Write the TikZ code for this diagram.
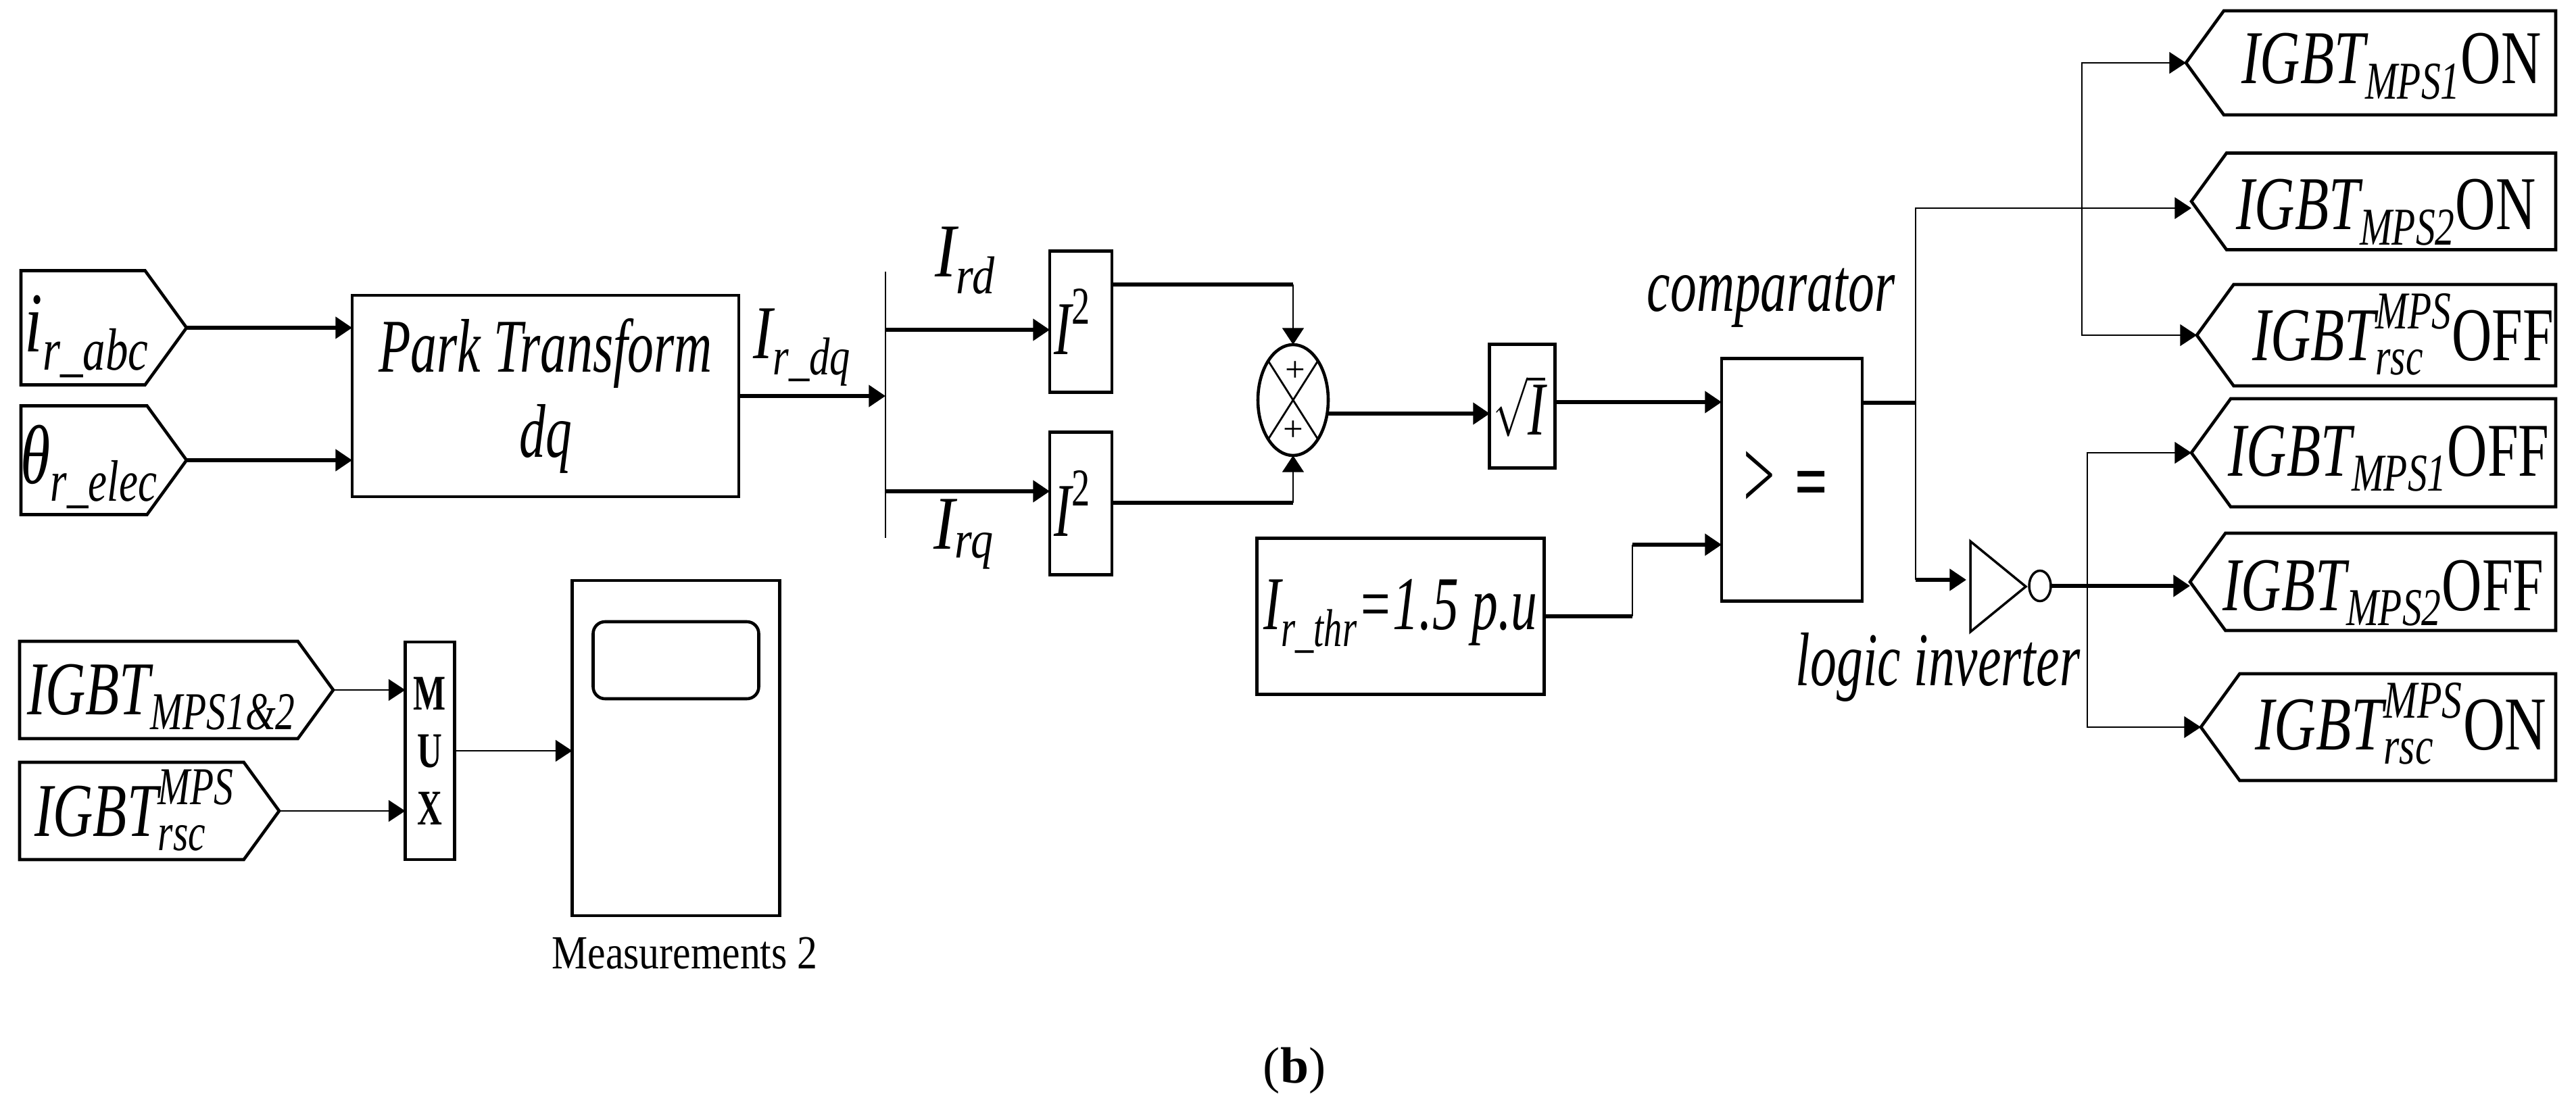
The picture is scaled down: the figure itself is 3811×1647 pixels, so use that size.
\documentclass[tikz,border=0pt]{standalone}
\usepackage{amsmath}
\usepackage{graphicx}
\usepackage{fontspec}
\setmainfont{Liberation Serif}
\usetikzlibrary{arrows.meta,shapes.geometric,shapes.symbols}
\newcommand{\sq}[1]{\scalebox{.69}[1]{#1}}
\newcommand{\sqw}[1]{\scalebox{.73}[1]{#1}}
\tikzset{
        box/.style={draw, line width=1.3pt, inner sep=0pt, outer sep=0pt},
        inport/.style={box, signal, signal to=east, signal pointer angle=108, anchor=east},
        outport/.style={box, signal, signal to=west, signal pointer angle=108, anchor=west},
        lbl/.style={inner sep=0pt, align=center, font=\fontsize{32}{36}\selectfont\itshape},
        wire/.style={line width=1.5pt},
        thinwire/.style={line width=.8pt},
        >={Triangle[length=7pt,width=9pt]}
}
\begin{document}
\begin{tikzpicture}[x=0.1mm,y=-0.1mm]
        \useasboundingbox (0,0) rectangle (3811,1647);

        % Nodes for the input ports
        \node[inport, minimum width=24.5mm, minimum height=16.9mm] (iabc) at (276,485) {};
        \node[inport, minimum width=24.5mm, minimum height=16.1mm] (thetae) at (276,681) {};
        \node[lbl, anchor=base] (iabclbl) at (129,520) {\scalebox{.85}[1.12]{$\textit{i}_{\textit{r\_abc}}$}};
        \node[lbl, anchor=base] (thetalbl) at (132,715) {\scalebox{.8}[1.1]{$\textit{θ}_{\textit{r\_elec}}$}};

        % Nodes for the transform and the squares
        \node[box, lbl, minimum width=57.2mm, minimum height=29.8mm] (park) at (807,586) {\sq{Park Transform}\\\sq{dq}};
        \node[lbl, anchor=base] (irdq) at (1187,530) {\scalebox{.77}[1]{$\textit{I}_{\textit{r\_dq}}$}};
        \coordinate (bartop) at (1310,402);
        \coordinate (barbot) at (1310,796);
        \coordinate (rdj) at (1310,488);
        \coordinate (rqj) at (1310,727);
        \node[lbl, anchor=base] (irdlbl) at (1428,410) {\scalebox{.84}[1]{$\textit{I}_{\textit{rd}}$}};
        \node[lbl, anchor=base] (irqlbl) at (1426,812) {\scalebox{.84}[1]{$\textit{I}_{\textit{rq}}$}};
        \node[box, lbl, minimum width=9.2mm, minimum height=20.9mm] (sqa) at (1599,476) {\sq{$\textit{I}^{\textup{2}}$}\hspace{2.4mm}};
        \node[box, lbl, minimum width=9.2mm, minimum height=21.1mm] (sqb) at (1599,745) {\sq{$\textit{I}^{\textup{2}}$}\hspace{2.4mm}};

        % Nodes for the sum and the root
        \node[draw, ellipse, line width=1.3pt, inner sep=0pt, outer sep=0pt, minimum width=10.4mm, minimum height=16.4mm] (sum) at (1913,592) {};
        \node[inner sep=0pt, font=\fontsize{15}{15}\selectfont] (plusa) at (1916,550) {+};
        \node[inner sep=0pt, font=\fontsize{15}{15}\selectfont] (plusb) at (1913,638) {+};
        \coordinate (suma) at (1913,421);
        \coordinate (sumb) at (1913,744);
        \node[box, lbl, minimum width=9.7mm, minimum height=18.3mm] (root) at (2252,601) {\sq{$\sqrt{\textit{I}}$}\hspace{.8mm}};
        \node[box, lbl, minimum width=42.5mm, minimum height=23.1mm] (thr) at (2072,912) {\sq{$\textit{I}_{\textit{r\_thr}}$=1.5 p.u}};
        \coordinate (thrj) at (2415,806);

        % Nodes for the comparator and the inverter
        \node[box, lbl, font=\fontsize{42}{46}\selectfont, minimum width=20.8mm, minimum height=35.9mm] (comp) at (2651,710) {\raisebox{-.6mm}{\scalebox{.56}[1]{>}\hspace{3mm}\scalebox{.58}[.8]{\textbf{=}}}\hspace{1.8mm}};
        \node[lbl, anchor=base] (complbl) at (2620,460) {\sq{comparator}};
        \node[draw, isosceles triangle, isosceles triangle stretches, line width=1pt, inner sep=0pt, outer sep=0pt, minimum width=13.4mm, minimum height=8.2mm, anchor=lower side] (inv) at (2915,868) {};
        \node[draw, ellipse, line width=1pt, inner sep=0pt, outer sep=0pt, minimum width=3.2mm, minimum height=4.5mm] (invc) at (3018,867) {};
        \node[lbl, anchor=base] (invlbl) at (2867,1014) {\sq{logic inverter}};
        \coordinate (cjoin) at (2834,596);
        \coordinate (invj) at (2834,858);
        \coordinate (topj) at (3080,308);
        \coordinate (botj) at (3088,868);

        % Nodes for the output ports
        \node[outport, minimum width=54.7mm, minimum height=15.4mm] (onone) at (3234,93) {};
        \node[outport, minimum width=53.9mm, minimum height=14.3mm] (ontwo) at (3242,298) {};
        \node[outport, minimum width=53.1mm, minimum height=15mm] (offrsc) at (3250,496) {};
        \node[outport, minimum width=53.9mm, minimum height=16mm] (offone) at (3242,670) {};
        \node[outport, minimum width=54.1mm, minimum height=14.4mm] (offtwo) at (3240,861) {};
        \node[outport, minimum width=52.5mm, minimum height=15.8mm] (onrsc) at (3256,1076) {};
        \node[lbl, anchor=base] (ononelbl) at (3538,124) {\sqw{$\textit{IGBT}_{\textit{MPS1}}$\textup{ON}}};
        \node[lbl, anchor=base] (ontwolbl) at (3530,340) {\sqw{$\textit{IGBT}_{\textit{MPS2}}$\textup{ON}}};
        \node[lbl, anchor=base] (offrsclbl) at (3555,533) {\sqw{$\textit{IGBT}^{\textit{MPS}}_{\textit{rsc}}$\textup{OFF}}};
        \node[lbl, anchor=base] (offonelbl) at (3534,704) {\sqw{$\textit{IGBT}_{\textit{MPS1}}$\textup{OFF}}};
        \node[lbl, anchor=base] (offtwolbl) at (3526,903) {\sqw{$\textit{IGBT}_{\textit{MPS2}}$\textup{OFF}}};
        \node[lbl, anchor=base] (onrsclbl) at (3552,1109) {\scalebox{.76}[1]{$\textit{IGBT}^{\textit{MPS}}_{\textit{rsc}}$\textup{ON}}};

        % Nodes for the measurements
        \node[inport, minimum width=46.4mm, minimum height=14.4mm] (igall) at (493,1021) {};
        \node[inport, minimum width=38.4mm, minimum height=14.4mm] (igrsc) at (413,1200) {};
        \node[lbl, anchor=base] (igalllbl) at (239,1057) {\sqw{$\textit{IGBT}_{\textit{MPS1\&2}}$}};
        \node[lbl, anchor=base] (igrsclbl) at (199,1237) {\sqw{$\textit{IGBT}^{\textit{MPS}}_{\textit{rsc}}$}};
        \node[box, minimum width=7.3mm, minimum height=32.2mm, align=center, font=\fontsize{21}{24.2}\selectfont\bfseries] (mux) at (636,1111) {\sq{M}\\\sq{U}\\\sq{X}};
        \node[box, minimum width=30.7mm, minimum height=49.6mm] (scope) at (1000,1107) {};
        \node[box, rounded corners=5pt, minimum width=24.5mm, minimum height=11.4mm] (screen) at (1000,977) {};
        \node[inner sep=0pt, font=\fontsize{20}{24}\selectfont] (scopelbl) at (1013,1411) {\scalebox{.85}[1]{Measurements 2}};

        \node[inner sep=0pt, font=\fontsize{21.5}{26}\selectfont] (sublbl) at (1915,1584) {(\textbf{b})};

        % Connectors of the upper chain
        \draw[wire,->] (iabc.east) -- (iabc.east -| park.west);
        \draw[wire,->] (thetae.east) -- (thetae.east -| park.west);
        \draw[wire,->] (park.east) -- (park.east -| bartop);
        \draw[thinwire] (bartop) -- (barbot);
        \draw[wire,->] (rdj) -- (rdj -| sqa.west);
        \draw[wire,->] (rqj) -- (rqj -| sqb.west);
        \draw[wire] (suma -| sqa.east) -- (suma);
        \draw[thinwire,->] (suma) -- (sum.north);
        \draw[wire] (sumb -| sqb.east) -- (sumb);
        \draw[thinwire,->] (sumb) -- (sum.south);
        \draw[thinwire] (sum.north west) -- (sum.south east);
        \draw[thinwire] (sum.north east) -- (sum.south west);
        \coordinate (rootin) at (2204,612);
        \coordinate (compin) at (2547,595);
        \draw[wire,->] (rootin -| sum.east) -- (rootin);
        \draw[wire,->] (compin -| root.east) -- (compin);
        \draw[wire] (thr.east) -| (thr.east -| thrj);
        \draw[thinwire] (thr.east -| thrj) -- (thrj);
        \draw[wire,->] (thrj) -- (thrj -| comp.west);

        % Comparator output
        \draw[wire] (cjoin -| comp.east) -- (cjoin);
        \draw[thinwire] (cjoin) |- (topj);
        \draw[thinwire,->] (topj) |- (onone.west);
        \draw[thinwire,->] (topj) -- (topj -| ontwo.west);
        \draw[thinwire,->] (topj) |- (offrsc.west);
        \draw[thinwire] (cjoin) -- (invj);
        \draw[wire,->] (invj) -- (2909,858);

        % Inverter output
        \draw[wire,->] (invc.east) -- (invc.east -| offtwo.west);
        \draw[thinwire,->] (botj) |- (offone.west);
        \draw[thinwire,->] (botj) |- (onrsc.west);

        % Connectors of the measurements
        \draw[thinwire,->] (igall.east) -- (igall.east -| mux.west);
        \draw[thinwire,->] (igrsc.east) -- (igrsc.east -| mux.west);
        \draw[thinwire,->] (mux.east) -- (mux.east -| scope.west);

\end{tikzpicture}
\end{document}
